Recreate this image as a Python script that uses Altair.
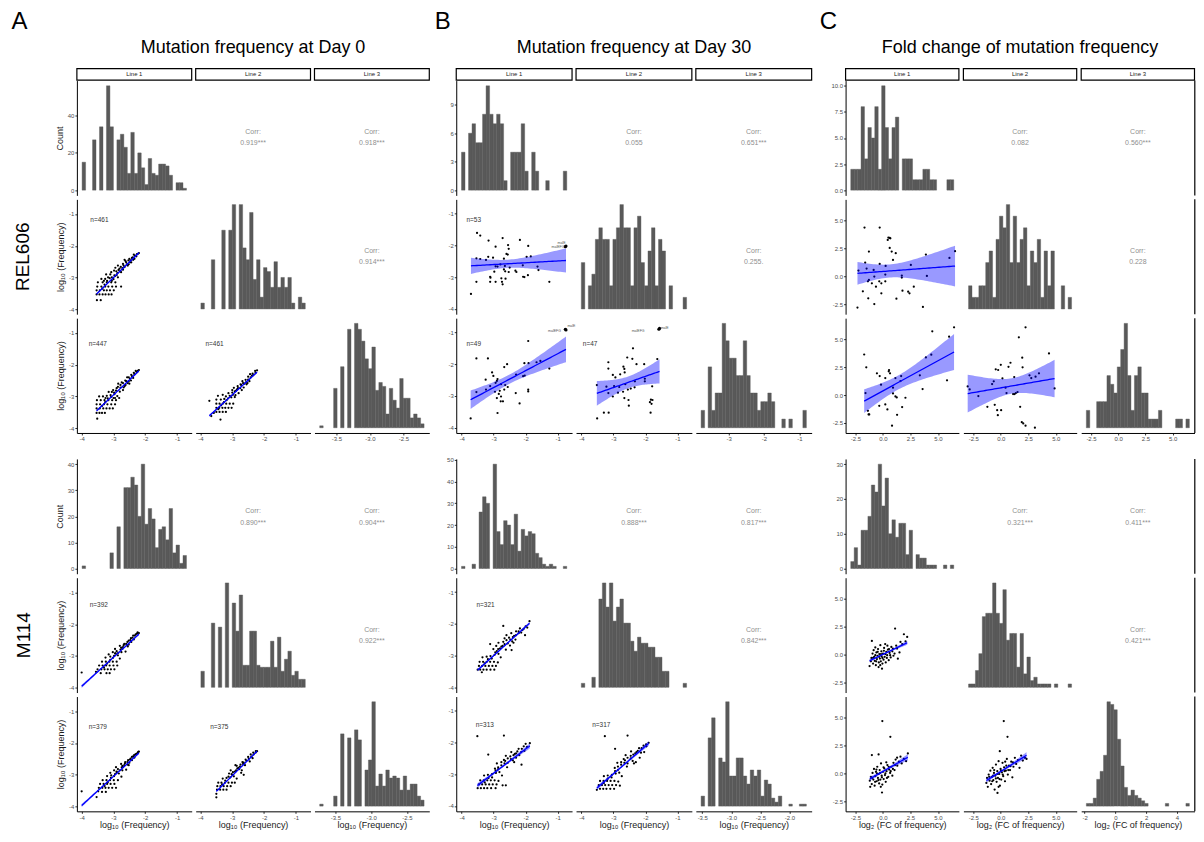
import altair as alt
import numpy as np
import pandas as pd

FONT = "Liberation Sans"
BAR = "#595959"
CORR_COL = "#8f8f8f"
MINUS = "replace(datum.label, '\u2212', '-')"

# ---------------- histogram counts (30 bins) and bar ranges ----------------
A_REL_H1 = [15,0,0,27,0,34,0,56,34,0,27,30,23,9,31,9,20,12,3,17,9,8,14,14,13,8,0,4,4,1]
A_REL_H2 = [3,0,0,25,0,0,40,0,40,53,0,53,31,25,49,15,25,6,21,19,11,24,11,16,11,16,3,0,6,3]
A_REL_H3 = [1,0,0,0,20,0,31,0,50,0,53,50,44,35,30,41,19,23,21,7,20,14,10,25,15,15,5,7,5,2]
A_M114_H1 = [1,0,0,0,0,0,0,0,6,0,16,0,31,31,35,32,20,40,17,23,19,8,15,16,11,23,6,9,2,5]
A_M114_H2 = [8,0,0,32,0,30,0,52,0,42,28,46,11,11,28,28,11,10,10,10,23,10,25,8,14,18,6,8,4,4]
A_M114_H3 = [1,0,0,0,5,0,36,0,34,0,38,33,0,18,23,52,10,16,10,18,14,15,14,8,15,8,11,11,5,3]
B_REL_H1 = [4,0,6,7,5,5,8,11,8,7,8,7,1,0,4,4,4,7,2,0,4,2,0,0,1,0,0,0,0,2]
B_REL_H2 = [4,0,2,3,6,7,6,6,2,6,7,9,7,7,2,7,8,4,2,5,7,2,6,5,0,2,0,0,0,1]
B_REL_H3 = [2,0,7,2,4,4,12,10,8,8,6,6,10,6,4,4,2,3,3,4,3,0,0,1,0,1,0,0,0,2]
B_M114_H1 = [1,0,0,2,0,26,33,30,0,48,17,11,22,20,11,25,8,18,15,17,16,7,5,2,1,2,1,0,0,1]
B_M114_H2 = [2,0,0,5,0,44,52,40,52,33,40,44,32,32,23,18,25,22,22,20,20,15,15,8,8,0,0,0,0,2]
B_M114_H3 = [5,0,34,44,0,24,22,52,15,15,24,24,15,11,18,15,18,5,13,11,4,2,5,0,0,1,0,0,1,1]
C_REL_H1 = [2,2,2,8,3,6,5,8,2,10,6,3,6,7,0,3,3,3,1,1,1,2,2,1,1,0,0,0,1,1]
C_REL_H2 = [2,1,1,2,2,4,5,1,6,8,7,9,4,8,4,6,7,2,5,4,6,1,5,2,5,0,0,2,0,1]
C_REL_H3 = [2,0,0,3,3,3,6,5,4,7,9,12,6,2,6,7,4,4,1,1,1,2,0,0,0,0,1,1,0,1]
C_M114_H1 = [2,6,1,11,11,15,24,22,30,18,26,10,14,9,13,13,4,11,0,4,3,3,1,1,1,0,0,1,0,1]
C_M114_H2 = [1,1,5,10,21,22,22,31,22,19,29,14,16,16,6,16,4,9,2,3,1,1,1,1,0,1,0,0,0,1]
C_M114_H3 = [1,1,3,10,13,19,39,38,36,25,15,7,4,6,4,3,2,1,0,0,0,0,0,1,0,0,0,0,0,1]

A_REL_RNG = [(-3.75, -2.20), (-3.75, -2.20), (-3.747, -2.194)]
A_M114_RNG = [(-3.95, -2.25), (-3.90, -2.20), (-3.72, -2.26)]
B_REL_RNG = [(-3.70, -0.75), (-3.80, -0.80), (-3.78, -0.80)]
B_M114_RNG = [(-3.90, -0.90), (-3.90, -0.85), (-3.52, -1.71)]
C_REL_RNG = [(-2.60, 6.00), (-2.90, 6.50), (-2.93, 6.53)]
C_M114_RNG = [(-2.80, 6.30), (-2.60, 6.50), (-1.89, 4.81)]

# ---------------- scatter points (x = column line, y = row line) ----------------
A_REL_21 = [(-3.52,-3.71),(-3.40,-3.71),(-3.53,-3.53),(-3.44,-3.53),(-3.34,-3.53),(-3.25,-3.53),(-3.15,-3.53),(-3.06,-3.53),
    (-3.53,-3.40),(-3.43,-3.40),(-3.30,-3.40),(-3.21,-3.40),(-3.11,-3.40),(-2.99,-3.40),
    (-3.51,-3.28),(-3.38,-3.28),(-3.26,-3.28),(-3.16,-3.28),(-3.04,-3.28),(-2.92,-3.28),(-2.76,-3.28),
    (-3.49,-3.15),(-3.34,-3.15),(-3.21,-3.15),(-3.07,-3.15),(-2.94,-3.15),
    (-3.38,-3.04),(-3.26,-3.04),(-3.17,-2.99),(-3.05,-2.99),(-2.97,-2.93),(-2.86,-2.99),
    (-3.23,-2.90),(-3.07,-2.83),(-2.91,-2.80),(-2.81,-2.72),(-2.76,-2.83),(-2.65,-2.67),
    (-2.94,-2.69),(-2.86,-2.62),(-2.70,-2.57),(-2.60,-2.52),(-2.55,-2.62),(-2.46,-2.46),
    (-2.65,-2.44),(-2.50,-2.41),(-2.39,-2.36),(-2.32,-2.31),(-2.23,-2.25),(-2.20,-2.23),(-2.44,-2.52),(-2.34,-2.41),
    (-3.00,-3.05),(-2.90,-2.92),(-2.80,-2.80),(-2.72,-2.70),(-2.58,-2.58),(-2.48,-2.52),(-2.38,-2.44),(-2.28,-2.33),
    (-3.35,-3.35),(-3.28,-3.22),(-3.20,-3.10),(-3.12,-3.02),(-3.05,-3.10),(-2.95,-2.95),(-2.88,-2.86),(-2.84,-2.76),
    (-2.77,-2.66),(-2.68,-2.62),(-2.62,-2.48),(-2.53,-2.46),(-2.42,-2.38),(-2.36,-2.28),(-2.26,-2.26),(-3.30,-3.10),
    (-3.10,-2.90),(-2.98,-2.78),(-2.70,-2.75),(-2.52,-2.58)]
A_REL_31 = [(-3.51,-3.70),(-3.53,-3.52),(-3.44,-3.52),(-3.36,-3.52),(-3.27,-3.52),
    (-3.53,-3.38),(-3.43,-3.38),(-3.32,-3.38),(-3.22,-3.38),(-3.12,-3.38),(-3.02,-3.38),
    (-3.53,-3.25),(-3.42,-3.25),(-3.30,-3.25),(-3.19,-3.25),(-3.07,-3.25),(-2.95,-3.25),
    (-3.52,-3.12),(-3.40,-3.12),(-3.28,-3.12),(-3.16,-3.12),(-3.04,-3.12),(-2.92,-3.12),
    (-3.45,-3.00),(-3.33,-3.00),(-3.21,-2.98),(-3.09,-2.96),(-2.97,-2.93),(-2.88,-2.99),(-2.82,-3.05),
    (-3.15,-2.86),(-3.01,-2.80),(-2.90,-2.74),(-2.78,-2.72),(-2.70,-2.80),(-2.62,-2.64),
    (-2.85,-2.60),(-2.74,-2.56),(-2.63,-2.50),(-2.55,-2.58),(-2.48,-2.44),(-2.57,-2.40),
    (-2.42,-2.36),(-2.34,-2.30),(-2.27,-2.24),(-2.20,-2.17),(-2.45,-2.50),(-2.38,-2.42),
    (-3.00,-3.05),(-2.80,-2.85),(-2.65,-2.68),(-2.52,-2.52),
    (-3.36,-3.30),(-3.26,-3.18),(-3.18,-3.06),(-3.08,-3.02),(-2.98,-2.88),(-2.92,-2.82),(-2.86,-2.70),(-2.78,-2.64),
    (-2.70,-2.58),(-2.60,-2.52),(-2.52,-2.40),(-2.44,-2.32),(-2.36,-2.26),(-2.30,-2.20),(-2.24,-2.20),(-3.25,-3.05),
    (-3.05,-2.86),(-2.95,-3.05),(-2.68,-2.72),(-2.50,-2.60)]
A_REL_32 = [(-3.72,-3.14),(-3.37,-3.73),(-3.66,-3.62),(-3.58,-3.52),
    (-3.50,-3.49),(-3.40,-3.49),(-3.30,-3.49),(-3.20,-3.49),
    (-3.50,-3.36),(-3.41,-3.36),(-3.31,-3.36),(-3.22,-3.36),(-3.12,-3.36),(-3.02,-3.36),
    (-3.50,-3.23),(-3.40,-3.23),(-3.30,-3.23),(-3.19,-3.23),(-3.08,-3.23),(-2.97,-3.23),
    (-3.50,-3.10),(-3.36,-3.10),(-3.25,-3.08),(-3.13,-3.06),(-3.03,-3.03),(-2.92,-3.02),
    (-3.45,-2.98),(-3.30,-2.95),(-3.12,-2.90),(-3.00,-2.88),(-2.88,-2.82),(-2.80,-2.90),
    (-2.95,-2.73),(-2.83,-2.68),(-2.72,-2.64),(-2.64,-2.72),(-2.57,-2.56),(-2.68,-2.52),
    (-2.50,-2.47),(-2.42,-2.40),(-2.34,-2.33),(-2.27,-2.26),(-2.22,-2.18),(-2.55,-2.62),(-2.46,-2.52),
    (-2.85,-2.78),(-2.75,-2.74),(-2.62,-2.60),(-2.38,-2.35),
    (-3.44,-3.40),(-3.35,-3.28),(-3.26,-3.18),(-3.18,-3.12),(-3.08,-2.98),(-2.98,-2.95),(-2.92,-2.84),(-2.82,-2.74),
    (-2.74,-2.62),(-2.66,-2.58),(-2.58,-2.48),(-2.50,-2.38),(-2.44,-2.30),(-2.36,-2.28),(-2.28,-2.20),(-3.20,-3.00),
    (-3.00,-2.80),(-2.90,-2.96),(-2.70,-2.80),(-2.52,-2.58)]
A_M114_21 = [(-4.00,-3.52),(-3.55,-3.50),(-3.40,-3.54),(-3.22,-3.54),(-3.12,-3.54),
    (-3.50,-3.42),(-3.38,-3.42),(-3.28,-3.42),(-3.18,-3.42),(-3.08,-3.42),(-2.97,-3.42),
    (-3.45,-3.30),(-3.34,-3.30),(-3.23,-3.30),(-3.12,-3.30),(-3.00,-3.30),(-2.88,-3.30),
    (-3.36,-3.18),(-3.24,-3.18),(-3.13,-3.18),(-3.02,-3.18),(-2.90,-3.18),
    (-3.25,-3.05),(-3.10,-3.02),(-2.98,-3.00),(-2.86,-2.98),(-2.80,-3.08),
    (-3.02,-2.88),(-2.90,-2.85),(-2.78,-2.80),(-2.70,-2.72),(-2.62,-2.86),
    (-2.80,-2.68),(-2.66,-2.62),(-2.56,-2.56),(-2.47,-2.50),(-2.52,-2.64),
    (-2.40,-2.42),(-2.33,-2.36),(-2.26,-2.30),(-2.20,-2.28),(-2.44,-2.56),(-2.36,-2.48),
    (-2.95,-2.92),(-2.72,-2.78),(-2.58,-2.66),
    (-3.30,-3.36),(-3.20,-3.24),(-3.10,-3.12),(-3.02,-3.06),(-2.93,-2.92),(-2.85,-2.90),(-2.76,-2.74),(-2.68,-2.66),
    (-2.60,-2.62),(-2.52,-2.52),(-2.45,-2.44),(-2.38,-2.36),(-2.30,-2.32),(-2.24,-2.26),(-3.15,-2.95),(-2.95,-2.78),
    (-2.75,-2.88),(-2.55,-2.70)]
A_M114_31 = [(-4.00,-3.52),(-3.53,-3.70),(-3.48,-3.52),(-3.36,-3.54),(-3.24,-3.54),
    (-3.46,-3.41),(-3.35,-3.41),(-3.25,-3.41),(-3.15,-3.41),(-3.04,-3.41),(-2.92,-3.41),
    (-3.42,-3.29),(-3.31,-3.29),(-3.20,-3.29),(-3.09,-3.29),(-2.97,-3.29),
    (-3.34,-3.17),(-3.22,-3.17),(-3.11,-3.17),(-2.99,-3.17),(-2.86,-3.17),
    (-3.20,-3.04),(-3.07,-3.02),(-2.95,-2.98),(-2.83,-2.96),(-2.75,-3.06),
    (-2.98,-2.86),(-2.86,-2.82),(-2.74,-2.77),(-2.66,-2.70),(-2.60,-2.84),
    (-2.76,-2.66),(-2.63,-2.60),(-2.54,-2.54),(-2.46,-2.49),(-2.50,-2.62),
    (-2.38,-2.42),(-2.31,-2.36),(-2.24,-2.31),(-2.20,-2.27),(-2.42,-2.54),(-2.34,-2.46),
    (-2.90,-2.92),(-2.70,-2.76),(-2.56,-2.68),
    (-3.28,-3.35),(-3.18,-3.24),(-3.08,-3.10),(-2.98,-3.04),(-2.90,-2.90),(-2.80,-2.86),(-2.72,-2.72),(-2.64,-2.64),
    (-2.56,-2.60),(-2.48,-2.52),(-2.42,-2.44),(-2.35,-2.38),(-2.28,-2.34),(-2.22,-2.28),(-3.10,-2.94),(-2.92,-2.76),
    (-2.72,-2.86),(-2.52,-2.70)]
A_M114_32 = [(-3.50,-3.71),(-3.50,-3.60),(-3.48,-3.47),(-3.38,-3.47),(-3.28,-3.47),(-3.18,-3.47),
    (-3.47,-3.36),(-3.37,-3.36),(-3.27,-3.36),(-3.16,-3.36),(-3.05,-3.36),
    (-3.44,-3.25),(-3.34,-3.25),(-3.23,-3.25),(-3.12,-3.25),(-3.01,-3.25),(-2.92,-3.25),
    (-3.30,-3.12),(-3.18,-3.10),(-3.06,-3.08),(-2.95,-3.05),(-2.86,-3.12),
    (-3.10,-2.96),(-2.98,-2.92),(-2.88,-2.86),(-2.78,-2.82),(-2.72,-2.94),(-2.64,-3.00),
    (-2.86,-2.72),(-2.74,-2.68),(-2.64,-2.62),(-2.56,-2.56),(-2.60,-2.70),
    (-2.48,-2.50),(-2.40,-2.43),(-2.33,-2.36),(-2.26,-2.30),(-2.22,-2.26),(-2.45,-2.58),(-2.36,-2.48),
    (-3.00,-3.00),(-2.80,-2.78),(-2.66,-2.66),
    (-3.32,-3.30),(-3.22,-3.18),(-3.12,-3.06),(-3.02,-2.98),(-2.92,-2.90),(-2.84,-2.80),(-2.76,-2.74),(-2.68,-2.60),
    (-2.58,-2.52),(-2.50,-2.44),(-2.42,-2.36),(-2.34,-2.30),(-2.26,-2.26),(-3.05,-2.86),(-2.90,-2.70),(-2.70,-2.86)]

B_REL_21 = [(-3.52,-1.61),(-3.42,-1.69),(-3.16,-1.85),(-2.72,-1.77),(-2.18,-1.83),(-2.94,-2.04),(-2.55,-1.99),
    (-2.53,-2.11),(-1.92,-2.02),(-3.54,-2.41),(-3.42,-2.43),(-3.24,-2.46),(-3.17,-2.36),(-3.02,-2.39),
    (-2.68,-2.42),(-2.56,-2.29),(-2.60,-2.27),(-1.97,-2.36),(-1.84,-2.35),(-2.94,-2.66),(-2.88,-2.67),
    (-2.79,-2.60),(-2.65,-2.65),(-2.50,-2.70),(-2.32,-2.80),(-2.29,-2.84),(-2.09,-2.63),(-1.63,-2.67),
    (-1.60,-2.78),(-2.98,-2.83),(-2.68,-2.76),(-2.64,-2.82),(-2.53,-2.84),(-3.11,-2.99),(-3.10,-3.02),
    (-2.76,-3.04),(-2.63,-3.05),(-2.08,-2.99),(-2.04,-3.00),(-1.93,-2.94),(-3.54,-3.15),(-3.11,-3.15),
    (-2.94,-3.15),(-2.74,-3.15),(-2.72,-3.23),(-1.26,-3.15),(-3.71,-3.53)]
B_REL_21_TAGS = [(-0.74,-2.02,-0.88,-1.93,"malE"),(-0.76,-2.04,-0.99,-2.06,"malEFG")]
B_REL_31 = [(-3.54,-1.82),(-3.18,-1.82),(-1.92,-1.27),(-2.67,-2.09),(-2.58,-2.00),(-2.04,-1.97),(-1.91,-1.97),
    (-1.54,-1.90),(-1.26,-2.14),(-2.30,-2.33),(-2.08,-2.38),(-2.03,-2.36),(-3.01,-2.37),(-3.25,-2.49),
    (-2.88,-2.47),(-2.90,-2.53),(-3.11,-2.69),(-2.94,-2.59),(-2.77,-2.63),(-2.56,-2.72),(-2.67,-2.80),
    (-2.81,-2.84),(-2.96,-2.87),(-3.24,-2.80),(-3.54,-2.88),(-2.84,-2.94),(-2.77,-3.02),(-2.90,-3.07),
    (-2.78,-3.17),(-2.71,-3.17),(-2.31,-2.91),(-1.92,-2.80),(-1.92,-2.86),(-2.19,-3.24),(-2.88,-3.54),
    (-3.72,-3.71),(-2.64,-2.66),(-1.66,-1.94),(-3.05,-2.26)]
B_REL_31_TAGS = [(-0.74,-0.92,-0.57,-0.80,"malE"),(-0.76,-0.90,-1.10,-0.95,"malEFG")]
B_REL_32 = [(-2.39,-1.50),(-2.57,-1.79),(-2.41,-1.83),(-3.16,-1.94),(-2.69,-2.08),(-2.28,-2.00),(-2.04,-2.00),
    (-2.66,-2.15),(-3.16,-2.14),(-3.02,-2.34),(-2.79,-2.32),(-2.65,-2.26),(-2.02,-2.46),(-2.02,-2.54),
    (-1.63,-1.84),(-3.22,-2.71),(-2.98,-2.69),(-2.82,-2.72),(-2.63,-2.63),(-2.55,-2.80),(-2.46,-2.77),
    (-2.34,-2.73),(-3.16,-2.91),(-3.02,-3.02),(-2.86,-2.90),(-2.70,-2.87),(-2.66,-3.07),(-2.53,-3.13),
    (-2.52,-3.31),(-1.79,-2.70),(-1.83,-3.12),(-1.78,-3.13),(-1.86,-3.20),(-1.81,-3.25),(-1.84,-3.53),
    (-3.30,-3.53),(-3.15,-3.53),(-3.51,-3.71),(-3.52,-2.66),(-2.94,-2.42),(-2.33,-2.54)]
B_REL_32_TAGS = [(-1.56,-0.87,-1.40,-0.85,"malE"),(-1.58,-0.90,-2.23,-0.95,"malEFG")]
B_M114_21 = [(-3.37,-3.53),(-3.50,-3.45),(-3.42,-3.45),(-3.32,-3.45),(-3.22,-3.45),(-3.10,-3.45),(-2.98,-3.45),
    (-3.46,-3.33),(-3.36,-3.33),(-3.26,-3.33),(-3.15,-3.33),(-3.04,-3.33),(-2.93,-3.33),
    (-3.44,-3.20),(-3.33,-3.20),(-3.22,-3.20),(-3.11,-3.20),(-2.99,-3.20),(-2.87,-3.22),
    (-3.35,-3.06),(-3.22,-3.04),(-3.10,-3.02),(-2.97,-2.98),(-2.85,-2.95),(-2.78,-3.06),
    (-3.11,-2.64),(-3.01,-2.80),(-2.90,-2.86),(-2.80,-2.78),(-2.72,-2.70),(-2.62,-2.82),
    (-2.49,-2.69),(-2.44,-2.83),(-2.70,-2.57),(-2.60,-2.52),(-2.52,-2.44),(-2.42,-2.56),
    (-2.70,-2.07),(-2.45,-2.30),(-2.36,-2.38),(-2.30,-2.24),(-2.22,-2.30),(-2.18,-2.15),
    (-2.10,-2.20),(-2.02,-2.36),(-1.95,-2.12),(-1.88,-1.92),(-2.60,-2.36),(-2.85,-2.60),(-2.32,-2.50),
    (-3.28,-3.25),(-3.18,-3.12),(-3.06,-3.10),(-2.95,-2.90),(-2.86,-2.80),(-2.76,-2.72),(-2.66,-2.64),(-2.56,-2.62),
    (-2.48,-2.50),(-2.40,-2.42),(-2.30,-2.36),(-2.22,-2.24),(-2.14,-2.28),(-2.06,-2.16),(-2.00,-2.08),(-2.92,-2.70),
    (-2.66,-2.46),(-2.38,-2.60)]
B_M114_31 = [(-3.51,-1.80),(-2.68,-1.78),(-3.17,-2.38),(-2.13,-2.70),
    (-3.50,-3.44),(-3.40,-3.44),(-3.30,-3.44),(-3.20,-3.44),(-3.08,-3.44),(-2.94,-3.44),(-2.72,-3.35),(-2.62,-3.35),
    (-3.46,-3.32),(-3.36,-3.32),(-3.25,-3.32),(-3.14,-3.32),(-3.03,-3.32),(-2.91,-3.32),
    (-3.42,-3.19),(-3.31,-3.19),(-3.20,-3.19),(-3.09,-3.19),(-2.97,-3.19),(-2.85,-3.21),
    (-3.30,-3.04),(-3.18,-3.02),(-3.05,-3.00),(-2.93,-2.96),(-2.82,-2.93),(-2.74,-3.04),
    (-2.96,-2.82),(-2.86,-2.78),(-2.76,-2.72),(-2.66,-2.66),(-2.58,-2.78),(-2.68,-2.55),
    (-2.56,-2.50),(-2.48,-2.44),(-2.40,-2.56),(-2.34,-2.36),(-2.26,-2.28),(-2.20,-2.40),
    (-2.12,-2.20),(-2.04,-2.26),(-1.96,-2.14),(-1.87,-2.02),(-2.45,-2.30),(-2.30,-2.48),
    (-3.28,-3.26),(-3.16,-3.12),(-3.05,-3.10),(-2.94,-2.88),(-2.86,-2.84),(-2.76,-2.62),(-2.64,-2.58),(-2.56,-2.64),
    (-2.46,-2.52),(-2.38,-2.40),(-2.30,-2.34),(-2.22,-2.20),(-2.14,-2.30),(-2.06,-2.12),(-2.00,-2.04),(-2.90,-2.66),
    (-2.62,-2.42),(-2.36,-2.62)]
B_M114_32 = [(-3.27,-1.80),(-2.56,-1.78),(-2.95,-2.20),
    (-3.52,-3.49),(-3.42,-3.46),(-3.32,-3.46),(-3.22,-3.46),(-3.10,-3.46),(-2.98,-3.46),(-2.80,-3.36),
    (-3.46,-3.34),(-3.36,-3.34),(-3.26,-3.34),(-3.15,-3.34),(-3.04,-3.34),(-2.92,-3.34),
    (-3.42,-3.21),(-3.31,-3.21),(-3.20,-3.21),(-3.09,-3.21),(-2.97,-3.21),(-2.85,-3.23),
    (-3.30,-3.06),(-3.18,-3.04),(-3.05,-3.02),(-2.93,-2.98),(-2.82,-2.95),(-2.74,-3.06),
    (-2.96,-2.80),(-2.86,-2.76),(-2.76,-2.70),(-2.66,-2.64),(-2.58,-2.76),(-2.68,-2.52),
    (-2.56,-2.48),(-2.46,-2.42),(-2.40,-2.58),(-2.32,-2.34),(-2.24,-2.26),(-2.18,-2.48),
    (-2.12,-2.18),(-2.04,-2.30),(-1.97,-2.12),(-1.90,-2.01),(-2.45,-2.28),(-2.30,-2.62),
    (-3.30,-3.28),(-3.18,-3.14),(-3.06,-3.10),(-2.95,-2.90),(-2.86,-2.86),(-2.76,-2.62),(-2.64,-2.56),(-2.56,-2.66),
    (-2.46,-2.50),(-2.38,-2.38),(-2.28,-2.30),(-2.20,-2.18),(-2.14,-2.32),(-2.06,-2.10),(-1.98,-2.06),(-2.88,-2.64),
    (-2.62,-2.40),(-2.36,-2.66)]

C_REL_21 = [(-1.68,4.37),(-0.30,4.37),(0.43,3.26),(0.49,3.47),(0.61,3.44),(0.67,3.41),(0.61,2.54),(-1.28,2.22),
    (0.79,2.22),(1.16,2.07),(0.91,1.47),(-1.62,1.23),(-0.30,1.11),(0.24,0.93),(-2.23,0.51),(-1.49,0.69),
    (-0.79,-0.03),(0.21,0.15),(1.71,0.06),(1.71,-0.12),(2.53,1.02),(3.90,1.95),(6.04,1.65),(6.55,2.25),
    (3.99,0.03),(-1.28,-0.33),(-1.37,-0.45),(-1.01,-0.63),(-0.34,-0.45),(-0.15,-0.63),(-0.64,-0.93),
    (0.21,-0.45),(2.80,-0.93),(-1.83,-1.35),(-1.34,-1.98),(-0.15,-1.53),(-0.79,-2.49),(1.22,-2.01),
    (1.77,-1.29),(2.29,-1.38),(2.41,-1.53),(-2.32,-2.81),(3.63,-2.75),(-0.85,0.57)]
C_REL_31 = [(6.46,6.08),(4.48,5.72),(6.01,5.24),(-1.71,3.64),(-1.52,2.49),(-0.55,1.95),(-0.30,1.71),(-0.18,0.93),
    (0.55,2.25),(0.52,2.13),(0.64,1.95),(0.21,1.53),(1.13,1.53),(1.65,1.71),(1.59,1.26),(3.35,1.77),
    (4.39,3.62),(3.90,3.38),(0.91,0.66),(1.13,-0.12),(1.25,-0.21),(2.04,-0.24),(-1.59,0.18),(-1.37,-1.41),
    (-1.31,-1.74),(-0.34,-0.96),(0.21,-0.84),(0.40,-1.29),(0.91,0.15),(1.28,-1.77),(1.74,-1.08),
    (0.82,-2.75),(3.60,0.54),(5.82,1.32),(-1.25,-1.74)]
C_REL_32 = [(2.25,6.08),(1.64,5.18),(4.38,3.74),(1.95,3.35),(4.89,0.60),(-3.01,0.78),(-2.83,0.51),(-2.04,-0.09),
    (-0.79,0.99),(-0.64,1.23),(-0.46,2.31),(-0.24,2.25),(0.00,2.72),(0.15,1.50),(0.43,0.66),(0.52,0.18),
    (0.70,2.54),(0.88,2.90),(1.22,1.62),(1.37,0.18),(1.52,0.27),(1.76,-1.05),(1.98,2.49),(2.61,1.77),
    (2.77,1.53),(3.16,1.65),(3.47,1.95),(-0.55,-0.87),(-0.33,-1.35),(-0.27,-1.80),(0.03,-1.35),
    (-1.22,-1.05),(1.12,0.09),(1.91,-2.43),(2.04,-2.54),(2.25,-2.75),(3.10,-2.93),(1.25,0.09)]
C_M114_21 = [(-1.22,-1.02),(-1.10,-0.60),(-1.05,-0.30),(-1.01,1.23),(-0.95,0.10),(-0.90,-0.80),(-0.85,0.40),
    (-0.80,-0.20),(-0.75,-0.55),(-0.70,0.65),(-0.65,-0.95),(-0.60,0.20),(-0.55,-0.40),(-0.50,-0.10),
    (-0.45,0.50),(-0.40,-1.11),(-0.38,-0.70),(-0.33,0.05),(-0.28,-0.35),(-0.24,0.85),(-0.20,-0.60),
    (-0.15,0.30),(-0.12,-0.15),(-0.09,-1.26),(-0.05,-0.80),(0.00,0.10),(0.05,-0.45),(0.10,0.60),
    (0.15,-0.20),(0.20,0.95),(0.25,-0.70),(0.30,0.25),(0.38,-0.05),(0.45,0.45),(0.52,-0.50),
    (0.60,0.15),(0.70,-0.25),(0.76,0.69),(0.85,0.30),(0.95,-0.10),(1.10,2.34),(1.20,0.80),
    (1.28,0.54),(1.35,-0.36),(1.50,0.20),(1.59,1.14),(1.75,0.95),(1.90,1.83),(2.05,1.20),(2.20,1.59),
    (-0.90,-0.30),(-0.62,-0.60),(-0.48,0.25),(-0.35,-0.20),(-0.18,0.05),(-0.05,-0.30),(0.08,0.35),(0.22,0.05),
    (0.35,-0.30),(0.55,0.50),(0.65,-0.05),(0.90,0.55),(1.05,0.10),(-0.70,-0.05),(-0.25,-0.95),(0.40,0.80)]
C_M114_31 = [(-0.06,4.70),(0.67,3.29),(-1.01,1.65),(-0.40,1.71),(1.28,1.41),(1.59,1.50),(2.26,1.80),(-0.09,-1.71),
    (-1.16,-1.20),(-1.20,-0.65),(-1.10,-0.30),(-1.02,-0.95),(-0.95,0.05),(-0.88,-0.55),(-0.82,0.40),
    (-0.76,-1.10),(-0.70,-0.25),(-0.64,0.15),(-0.58,-0.70),(-0.52,0.60),(-0.46,-0.40),(-0.40,-0.05),
    (-0.35,-0.90),(-0.30,0.30),(-0.24,-0.55),(-0.18,0.90),(-0.12,-0.20),(-0.06,-1.00),(0.00,0.15),
    (0.06,-0.50),(0.12,0.45),(0.18,-0.15),(0.25,-0.75),(0.32,0.20),(0.40,0.75),(0.48,-0.30),(0.56,0.35),
    (0.65,0.05),(0.75,0.60),(0.85,-0.20),(0.95,0.95),(1.05,0.30),(1.15,1.25),(1.30,0.70),(1.45,1.05),
    (1.70,0.90),(1.90,1.30),(2.10,1.10),
    (-0.98,-0.40),(-0.72,-0.75),(-0.55,0.00),(-0.42,-0.60),(-0.26,0.05),(-0.10,-0.35),(0.05,0.55),(0.22,0.00),
    (0.36,-0.40),(0.52,0.60),(0.70,0.20),(0.90,0.40),(1.10,0.75),(-0.60,0.35),(-0.20,-1.20),(0.30,1.00)]
C_M114_32 = [(0.27,4.70),(0.61,3.29),(-0.09,2.00),(-1.31,-0.85),(-1.25,-0.40),(-1.18,-1.20),(-1.10,-0.10),
    (-1.02,-0.65),(-0.95,0.25),(-0.88,-0.95),(-0.80,-0.30),(-0.74,0.50),(-0.68,-0.60),(-0.62,0.05),
    (-0.56,-1.45),(-0.50,-0.20),(-0.44,0.80),(-0.38,-0.75),(-0.32,0.20),(-0.26,-0.40),(-0.20,1.10),
    (-0.14,-0.05),(-0.08,-1.10),(-0.02,0.40),(0.04,-0.55),(0.10,0.10),(0.16,0.95),(0.22,-0.25),
    (0.30,0.55),(0.38,-0.70),(0.46,0.25),(0.55,1.30),(0.64,-0.10),(0.74,0.70),(0.84,0.30),
    (0.95,1.05),(1.05,-0.35),(1.15,0.60),(1.28,1.40),(1.40,0.85),(1.55,1.20),(1.70,0.50),(1.85,1.60),
    (2.00,1.15),(2.20,1.40),(2.34,1.30),(-0.30,-1.75),
    (-1.05,-0.30),(-0.78,-0.70),(-0.60,0.30),(-0.45,-0.45),(-0.28,-0.05),(-0.12,-0.50),(0.02,0.25),(0.18,-0.10),
    (0.34,0.20),(0.50,0.70),(0.68,0.30),(0.88,0.65),(1.10,1.00),(-0.70,-0.20),(-0.20,-1.20),(0.40,1.05)]

# correlation texts
A_REL_CORR = {(0, 1): "0.919***", (0, 2): "0.918***", (1, 2): "0.914***"}
A_M114_CORR = {(0, 1): "0.890***", (0, 2): "0.904***", (1, 2): "0.922***"}
B_REL_CORR = {(0, 1): "0.055", (0, 2): "0.651***", (1, 2): "0.255."}
B_M114_CORR = {(0, 1): "0.888***", (0, 2): "0.817***", (1, 2): "0.842***"}
C_REL_CORR = {(0, 1): "0.082", (0, 2): "0.560***", (1, 2): "0.228"}
C_M114_CORR = {(0, 1): "0.321***", (0, 2): "0.411***", (1, 2): "0.421***"}

LINES = ["Line 1", "Line 2", "Line 3"]

# ---------------- layout ----------------
CELL_H = 115
HEADER_H = 55.7
STRIP_H = 7.6
GAP_ROW_H = 17.5
GAP_COL = [19, 25.5]
ONE = pd.DataFrame({"k": [0]})
EMPTY = pd.DataFrame({"k": []})


def spacer(w, h):
    return alt.Chart(EMPTY).mark_point(opacity=0).encode(
        x=alt.value(0), y=alt.value(0)).properties(width=w, height=h)


def text_layer(txt, x, y, size, color="#000000", align="center", baseline="middle", angle=0):
    kw = dict(font=FONT, fontSize=size, color=color, align=align, baseline=baseline)
    if angle:
        kw["angle"] = angle
    return alt.Chart(ONE).mark_text(**kw).encode(
        x=alt.value(x), y=alt.value(y), text=alt.value(txt))


def make_axis(vals, fmt, title, pad):
    kw = dict(values=vals, format=fmt, labelExpr=MINUS, labelFlush=False, labelOverlap=False)
    if title:
        kw.update(title=title, titlePadding=pad)
    else:
        kw["title"] = None
    return alt.Axis(**kw)


def fit_band(pts, n_true):
    x = np.array([p[0] for p in pts], dtype=float)
    y = np.array([p[1] for p in pts], dtype=float)
    n = len(x)
    b, a = np.polyfit(x, y, 1)
    xg = np.linspace(x.min(), x.max(), 50)
    fit = a + b * xg
    s = np.sqrt(((y - (a + b * x)) ** 2).sum() / (n - 2))
    sxx = ((x - x.mean()) ** 2).sum()
    se = s * np.sqrt(1.0 / n + (xg - x.mean()) ** 2 / sxx) * np.sqrt(n / n_true)
    t = 1.96 + 2.5 / (n_true - 2)
    return pd.DataFrame({"x": xg, "fit": fit, "lo": fit - t * se, "hi": fit + t * se})


def right_strip(w):
    # left border of the facet strip on the right edge (the rest lies outside the picture)
    return [alt.Chart(ONE).mark_rule(color="black", strokeWidth=1.2).encode(
        x=alt.value(w + 0.3), y=alt.value(0), y2=alt.value(CELL_H))]


def hist_cell(counts, rng, w, xaxis, yaxis, extra=()):
    lo, hi = rng
    k = len(counts)
    step = (hi - lo) / k
    rows = [{"x0": lo + i * step, "x1": lo + (i + 1) * step, "c0": 0, "c": c}
            for i, c in enumerate(counts) if c > 0]
    pad = 0.05 * (hi - lo)
    cmax = max(counts)
    sx = alt.Scale(domain=[lo - pad, hi + pad], nice=False, zero=False)
    sy = alt.Scale(domain=[-0.05 * cmax, 1.05 * cmax], nice=False, zero=False)
    bars = alt.Chart(pd.DataFrame(rows)).mark_rect(color=BAR, stroke=BAR, strokeWidth=0.4).encode(
        x=alt.X("x0:Q", scale=sx, axis=xaxis), x2="x1:Q",
        y=alt.Y("c:Q", scale=sy, axis=yaxis), y2="c0:Q")
    return alt.layer(bars, *extra).properties(width=w, height=CELL_H)


def scatter_cell(pts, tags, xdom, ydom, w, n_true, xaxis, yaxis, nlab=None, extra=()):
    allp = list(pts) + [(t[0], t[1]) for t in tags]
    n_true = n_true or len(allp)
    band = fit_band(allp, n_true)
    sx = alt.Scale(domain=xdom, nice=False, zero=False)
    sy = alt.Scale(domain=ydom, nice=False, zero=False)

    def X(f):
        return alt.X(f + ":Q", scale=sx, axis=xaxis)

    def Y(f):
        return alt.Y(f + ":Q", scale=sy, axis=yaxis)

    dots = alt.Chart(pd.DataFrame(pts, columns=["x", "y"])).mark_circle(
        size=5, color="black", opacity=1).encode(x=X("x"), y=Y("y"))
    area = alt.Chart(band).mark_area(color="#0000ff", opacity=0.4, clip=True).encode(
        x=X("x"), y=Y("lo"), y2="hi:Q")
    line = alt.Chart(band).mark_line(color="#0000ff", strokeWidth=1.3, clip=True).encode(
        x=X("x"), y=Y("fit"))
    layers = [dots, area, line]
    if tags:
        tdf = pd.DataFrame(tags, columns=["x", "y", "lx", "ly", "lab"])
        layers.append(alt.Chart(tdf).mark_circle(size=10, color="black", opacity=1).encode(
            x=X("x"), y=Y("y")))
        layers.append(alt.Chart(tdf).mark_text(font=FONT, fontSize=3.5, color="#555555").encode(
            x=X("lx"), y=Y("ly"), text="lab:N"))
    if nlab:
        layers.append(text_layer(nlab[0], nlab[1], nlab[2], 6.5, "#333333", align="left"))
    layers += list(extra)
    return alt.layer(*layers).properties(width=w, height=CELL_H)


def corr_cell(val, w, top, extra=()):
    t1 = text_layer("Corr:", w / 2, top, 7, CORR_COL)
    t2 = text_layer(val, w / 2, top + 11.3, 7, CORR_COL)
    return alt.layer(t1, t2, *extra).properties(width=w, height=CELL_H)


def strip_top(label, w):
    box = alt.Chart(ONE).mark_rect(fill="white", stroke="black", strokeWidth=1.2).encode(
        x=alt.value(0), x2=alt.value(w), y=alt.value(0), y2=alt.value(11.6))
    return alt.layer(box, text_layer(label, w / 2, 5.9, 6, "#1a1a1a")).properties(
        width=w, height=STRIP_H)


LOG10 = "log\u2081\u2080 (Frequency)"
LOG2 = "log\u2082 (FC of frequency)"

PANELS = [
    dict(letter="A", title="Mutation frequency at Day 0", dx=-65.5, w=115, rstrip=False,
         sdom=[-4.15, -0.54], ticks=[-4, -3, -2, -1], fmt="d", xtitle=LOG10, ylab=LOG10, ytitles=True,
         blocks=[
             dict(hist=[A_REL_H1, A_REL_H2, A_REL_H3], rng=A_REL_RNG, corr=A_REL_CORR,
                  cticks=[0, 20, 40], cfmt="d", dticks=[-3.5, -3.0, -2.5], dfmt=".1f", ctop=51.7,
                  scat={(1, 0): (A_REL_21, [], 461, ("n=461", 13.5, 21)),
                        (2, 0): (A_REL_31, [], 447, ("n=447", 11.8, 26)),
                        (2, 1): (A_REL_32, [], 461, ("n=461", 9.8, 26))},
                  label=("REL606", -54)),
             dict(hist=[A_M114_H1, A_M114_H2, A_M114_H3], rng=A_M114_RNG, corr=A_M114_CORR,
                  cticks=[0, 10, 20, 30, 40], cfmt="d", dticks=[-3.5, -3.0, -2.5], dfmt=".1f", ctop=52.5,
                  scat={(1, 0): (A_M114_21, [], 392, ("n=392", 12.8, 26.9)),
                        (2, 0): (A_M114_31, [], 379, ("n=379", 11.8, 30.5)),
                        (2, 1): (A_M114_32, [], 375, ("n=375", 14.5, 30.5))},
                  label=("M114", -53)),
         ]),
    dict(letter="B", title="Mutation frequency at Day 30", dx=-21.5, w=116, rstrip=False,
         sdom=[-4.17, -0.55], ticks=[-4, -3, -2, -1], fmt="d", xtitle=LOG10, ylab=LOG10, ytitles=False,
         blocks=[
             dict(hist=[B_REL_H1, B_REL_H2, B_REL_H3], rng=B_REL_RNG, corr=B_REL_CORR,
                  cticks=[0, 3, 6, 9], cfmt="d", dticks=[-3, -2, -1], dfmt="d", ctop=51.7,
                  scat={(1, 0): (B_REL_21, B_REL_21_TAGS, 53, ("n=53", 10.2, 21)),
                        (2, 0): (B_REL_31, B_REL_31_TAGS, 49, ("n=49", 10.2, 26)),
                        (2, 1): (B_REL_32, B_REL_32_TAGS, 47, ("n=47", 6.8, 26))},
                  label=None),
             dict(hist=[B_M114_H1, B_M114_H2, B_M114_H3], rng=B_M114_RNG, corr=B_M114_CORR,
                  cticks=[0, 10, 20, 30, 40, 50], cfmt="d", dticks=[-3.5, -3.0, -2.5, -2.0], dfmt=".1f",
                  ctop=52.5,
                  scat={(1, 0): (B_M114_21, [], 321, ("n=321", 20.2, 26.9)),
                        (2, 0): (B_M114_31, [], 313, ("n=313", 19.5, 28.9)),
                        (2, 1): (B_M114_32, [], 317, ("n=317", 16.2, 28.9))},
                  label=None),
         ]),
    dict(letter="C", title="Fold change of mutation frequency", dx=-26, w=113.5, rstrip=True,
         sdom=[-3.4, 6.9], ticks=[-2.5, 0, 2.5, 5], fmt=".1f", xtitle=LOG2, ylab=LOG2, ytitles=False,
         blocks=[
             dict(hist=[C_REL_H1, C_REL_H2, C_REL_H3], rng=C_REL_RNG, corr=C_REL_CORR,
                  cticks=[0, 2.5, 5, 7.5, 10], cfmt=".1f", dticks=[-2.5, 0, 2.5, 5], dfmt=".1f", ctop=51.7,
                  scat={(1, 0): (C_REL_21, [], None, None),
                        (2, 0): (C_REL_31, [], None, None),
                        (2, 1): (C_REL_32, [], None, None)},
                  label=None),
             dict(hist=[C_M114_H1, C_M114_H2, C_M114_H3], rng=C_M114_RNG, corr=C_M114_CORR,
                  cticks=[0, 10, 20, 30], cfmt="d", dticks=[-2, 0, 2, 4], dfmt="d", ctop=52.5,
                  scat={(1, 0): (C_M114_21, [], 300, None),
                        (2, 0): (C_M114_31, [], 300, None),
                        (2, 1): (C_M114_32, [], 300, None)},
                  label=None),
         ]),
]


def block_cells(P, B, bottom):
    w = P["w"]
    rows = [[], [], []]
    for r in range(3):
        for c in range(3):
            xaxis = None
            yaxis = None
            if r == 2:
                xt = P["xtitle"] if bottom else None
                if c == 2:
                    xaxis = make_axis(B["dticks"], B["dfmt"], xt, 0.5)
                else:
                    xaxis = make_axis(P["ticks"], P["fmt"], xt, 0.5)
            if c == 0:
                if r == 0:
                    yaxis = make_axis(B["cticks"], B["cfmt"], "Count" if P["ytitles"] else None, 3)
                else:
                    yaxis = make_axis(P["ticks"], P["fmt"], P["ylab"] if P["ytitles"] else None, 3)
            extra = right_strip(w) if (P["rstrip"] and c == 2) else []
            if r == c:
                cell = hist_cell(B["hist"][r], B["rng"][r], w, xaxis, yaxis, extra)
            elif r > c:
                pts, tags, n_true, nlab = B["scat"][(r, c)]
                if r == 1 and c == 0 and B["label"]:
                    extra = [text_layer(B["label"][0], B["label"][1], CELL_H / 2, 19,
                                        "#000000", angle=270)]
                cell = scatter_cell(pts, tags, P["sdom"], P["sdom"], w, n_true, xaxis, yaxis,
                                    nlab=nlab, extra=extra)
            else:
                cell = corr_cell(B["corr"][(r, c)], w, B["ctop"], extra)
            rows[r].append(cell)
    return rows


grid = []
# header row
row = []
for pi, P in enumerate(PANELS):
    w = P["w"]
    row.append(alt.layer(text_layer(P["letter"], P["dx"], 20.3, 24, align="left",
                                    baseline="alphabetic")).properties(width=w, height=HEADER_H))
    row.append(alt.layer(text_layer(P["title"], w / 2, 44.3, 18, baseline="alphabetic")).properties(
        width=w, height=HEADER_H))
    row.append(spacer(w, HEADER_H))
    if pi < 2:
        row.append(spacer(GAP_COL[pi], HEADER_H))
grid.append(row)

# strip row
row = []
for pi, P in enumerate(PANELS):
    for c in range(3):
        row.append(strip_top(LINES[c], P["w"]))
    if pi < 2:
        row.append(spacer(GAP_COL[pi], STRIP_H))
grid.append(row)

for bi in range(2):
    cells = [block_cells(P, P["blocks"][bi], bi == 1) for P in PANELS]
    for r in range(3):
        row = []
        for pi, P in enumerate(PANELS):
            row += cells[pi][r]
            if pi < 2:
                row.append(spacer(GAP_COL[pi], CELL_H))
        grid.append(row)
    if bi == 0:
        row = []
        for pi, P in enumerate(PANELS):
            for c in range(3):
                row.append(spacer(P["w"], GAP_ROW_H))
            if pi < 2:
                row.append(spacer(GAP_COL[pi], GAP_ROW_H))
        grid.append(row)

all_cells = [c for r in grid for c in r]

chart = alt.concat(*all_cells, columns=11, spacing=4, bounds="flush").properties(
    padding={"left": 3, "top": 0, "right": 0, "bottom": 0}, background="white"
).configure_view(stroke=None).configure_axis(
    labelFont=FONT, titleFont=FONT, labelFontSize=6, labelColor="#4d4d4d",
    tickColor="#333333", tickSize=2, tickWidth=1, domainColor="#000000", domainWidth=1,
    grid=False, labelPadding=1, titleFontSize=9, titleFontWeight="normal", titleColor="#1a1a1a")

chart.save("out.html", embed_options={"renderer": "svg", "actions": False})
